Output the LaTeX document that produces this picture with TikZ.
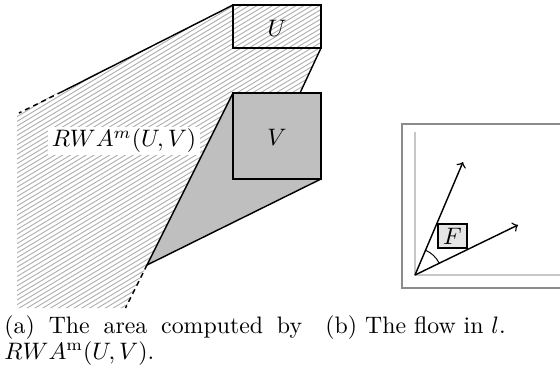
\documentclass[tikz,border=0pt]{standalone}
\usetikzlibrary{angles}
\begin{document}
\begin{tikzpicture}[x=0.42pt,y=-0.42pt,
  edge/.style={line width=0.6pt, black},
  hatchline/.style={line width=0.38pt, black!32},
  dashedge/.style={line width=0.6pt, black, dash pattern=on 2.1pt off 1.7pt},
  vec/.style={line width=0.6pt, ->},
  frameline/.style={line width=0.45pt, black!45},
  axisline/.style={line width=0.95pt, black!22},
  capt/.style={anchor=base west, inner sep=0pt}
]
\useasboundingbox (0,0) rectangle (560,376);
% ---------- panel (a) ----------
\coordinate (A) at (19,113);
\coordinate (A0) at (17,113);
\coordinate (P1) at (62,91.7);
\coordinate (B) at (233,5);
\coordinate (C) at (321,5);
\coordinate (D) at (321,48);
\coordinate (E) at (300,93);
\coordinate (F) at (233,93);
\coordinate (Vtr) at (321,93);
\coordinate (Vbr) at (321,179);
\coordinate (G) at (147,265);
\coordinate (H) at (125.5,308);
\coordinate (I) at (17,308);

\begin{scope}
  \clip (A0) -- (B) -- (C) -- (D) -- (E) -- (F) -- (G) -- (H) -- (I) -- cycle;
  \foreach \c in {0,4.7,...,560} \draw[hatchline] (0,\c) -- ++(560,-336);
\end{scope}

\fill[black!25] (F) -- (Vtr) -- (Vbr) -- (G) -- cycle;
\draw[edge] (B) rectangle (D);
\draw[edge] (F) rectangle (Vbr);
\draw[edge] (P1) -- (B);
\draw[dashedge] (P1) -- (A);
\draw[edge] (D) -- (E);
\draw[edge] (F) -- (G) -- (Vbr);
\draw[dashedge] (G) -- (H);

\node[fill=white, inner xsep=1.5pt, inner ysep=1pt] (rwa) at (124,141) {$RWA^m(U,V)$};
\node (ulab) at (277,28) {$U$};
\node (vlab) at (277,137) {$V$};

% ---------- panel (b) ----------
\coordinate (Ftl) at (402,124);
\coordinate (Fbr) at (600,288);
\draw[frameline] (Ftl) rectangle (Fbr);
\coordinate (Ytop) at (415,132);
\coordinate (O) at (415,275);
\coordinate (Xend) at (600,275);
\draw[axisline] (Ytop) -- (O) -- (Xend);
\coordinate (P) at (463,162);
\coordinate (Q) at (518,225);
\draw[vec] (O) -- (P);
\draw[vec] (O) -- (Q);
\pic[draw, line width=0.4pt, angle radius=11.3pt] {angle = Q--O--P};
\node[draw, fill=black!10, line width=0.5pt, minimum width=12.2pt, minimum height=10.1pt, inner sep=0pt] (fbox) at (452.5,236) {$F$};

% ---------- captions ----------
\node[capt] (capa1) at (4,333) {\makebox[125pt][s]{(a) The area computed by}};
\node[capt] (capa2) at (4,359) {$RWA^{\mathrm{m}}(U,V)$.};
\node[capt] (capb) at (325,333) {(b) The flow in $l$.};
\end{tikzpicture}
\end{document}
